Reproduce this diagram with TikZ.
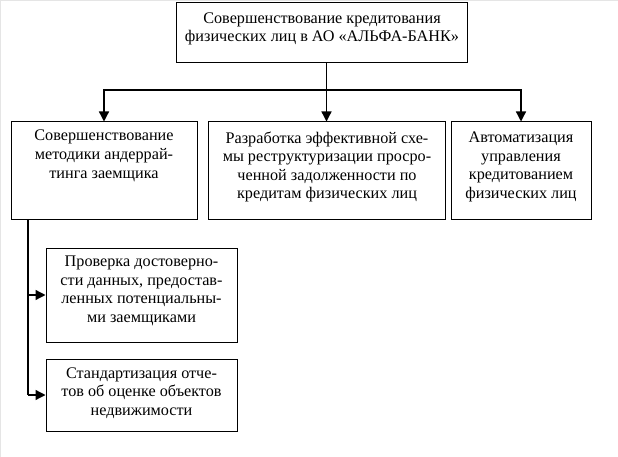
\documentclass[tikz,border=0pt]{standalone}
\usepackage{fontspec}
\setmainfont{Liberation Serif}
\usetikzlibrary{arrows.meta}
\begin{document}
\begin{tikzpicture}[x=1pt,y=-1pt,
  boxnode/.style={draw=black,line width=1pt,inner sep=0pt},
  txt/.style={align=center,inner sep=0pt,font=\fontsize{16.2}{18.6}\selectfont},
  arr/.style={line width=1.3pt,-{Triangle[length=10pt,width=10pt]}},
  ln/.style={line width=1.3pt}]
\useasboundingbox (0,0) rectangle (618,457);
\draw[gray!20,line width=1pt] (0.5,457) -- (0.5,0.5) -- (618,0.5);
% boxes
\node[boxnode,minimum width=291pt,minimum height=60pt] (b0) at (321.5,33) {};
\node[boxnode,minimum width=186pt,minimum height=97pt] (b1) at (104,170.5) {};
\node[boxnode,minimum width=237pt,minimum height=97pt] (b2) at (326.5,170.5) {};
\node[boxnode,minimum width=140pt,minimum height=97pt] (b3) at (521,170.5) {};
\node[boxnode,minimum width=191pt,minimum height=94pt] (b4) at (141.5,295) {};
\node[boxnode,minimum width=191pt,minimum height=72pt] (b5) at (141.5,395) {};
% texts
\node[txt] (t0) at (322,29) {Совершенствование кредитования\\физических лиц в АО «АЛЬФА-БАНК»};
\node[txt,anchor=north] (t1) at (104,130) {Совершенствование\\методики андеррай-\\тинга заемщика};
\node[txt] (t2) at (327,167) {Разработка эффективной схе-\\мы реструктуризации просро-\\ченной задолженности по\\кредитам физических лиц};
\node[txt] (t3) at (521,167) {Автоматизация\\управления\\кредитованием\\физических лиц};
\node[txt] (t4) at (141.5,291) {Проверка достоверно-\\сти данных, предостав-\\ленных потенциальны-\\ми заемщиками};
\node[txt] (t5) at (141.5,393) {Стандартизация отче-\\тов об оценке объектов\\недвижимости};
% connectors
\coordinate (j) at (326.5,90);
\draw[ln] (b0.south -| j) -- (j);
\draw[arr] (j) -| (b1.north);
\draw[arr] (j) -- (b2.north);
\draw[arr] (j) -| (b3.north);
\coordinate (l) at (28,219);
\draw[ln] (l) -- (l |- b5.west);
\draw[arr] (l |- b4.west) -- (b4.west);
\draw[arr] (l |- b5.west) -- (b5.west);
\end{tikzpicture}
\end{document}
